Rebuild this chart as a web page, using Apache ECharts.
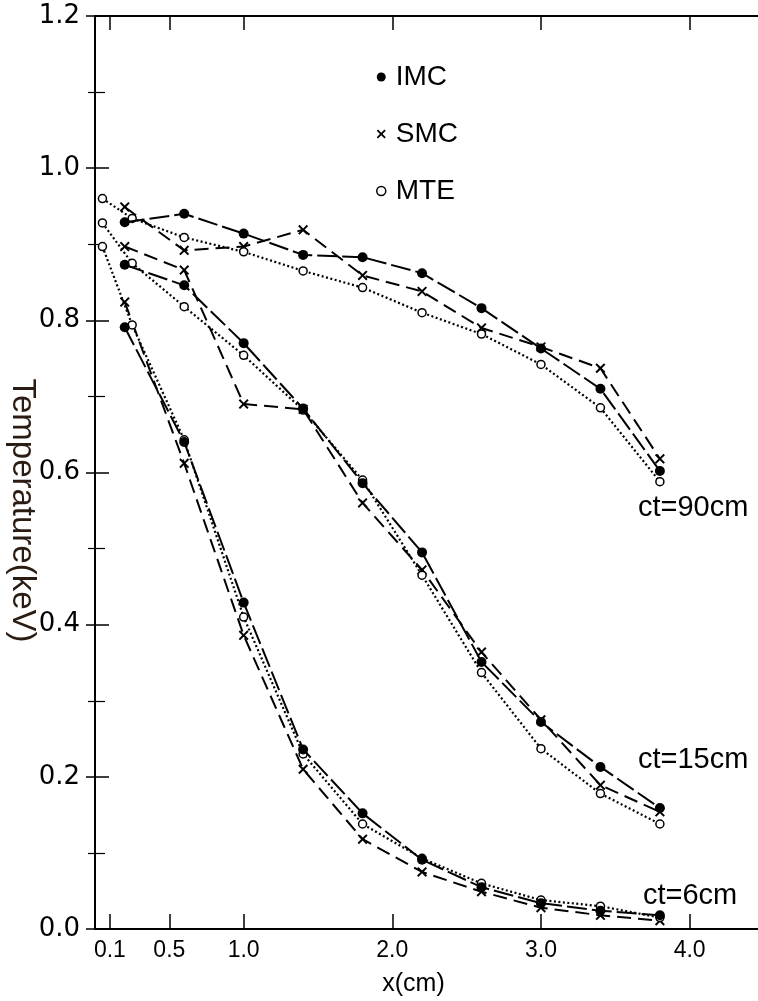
<!DOCTYPE html>
<html>
<head>
<meta charset="utf-8">
<script src="https://cdn.jsdelivr.net/npm/echarts@6/dist/echarts.min.js"></script>
<style>html,body{margin:0;padding:0;background:#fff;}#c{width:758px;height:1001px;}</style>
</head>
<body>
<div id="c"></div>
<script>
// ---- data ----
const xTickValues = [0.1, 0.5, 1.0, 2.0, 3.0, 4.0];
const xTickLabels = ['0.1', '0.5', '1.0', '2.0', '3.0', '4.0'];
const yTickLabels = ['0.0', '0.2', '0.4', '0.6', '0.8', '1.0', '1.2'];

const xSim = [0.2, 0.6, 1.0, 1.4, 1.8, 2.2, 2.6, 3.0, 3.4, 3.8];          // IMC & SMC positions
const xMte = [0.05, 0.25, 0.6, 1.0, 1.4, 1.8, 2.2, 2.6, 3.0, 3.4, 3.8];   // MTE positions

// ct = 90 cm
const imc90 = [0.929, 0.940, 0.914, 0.886, 0.883, 0.862, 0.816, 0.763, 0.710, 0.602];
const smc90 = [0.949, 0.892, 0.897, 0.919, 0.859, 0.838, 0.790, 0.765, 0.737, 0.618];
const mte90 = [0.960, 0.934, 0.909, 0.890, 0.865, 0.843, 0.810, 0.782, 0.742, 0.685, 0.588];
// ct = 15 cm
const imc15 = [0.873, 0.846, 0.770, 0.684, 0.586, 0.495, 0.351, 0.272, 0.213, 0.159];
const smc15 = [0.897, 0.866, 0.690, 0.683, 0.560, 0.472, 0.364, 0.275, 0.189, 0.154];
const mte15 = [0.928, 0.875, 0.818, 0.754, 0.682, 0.590, 0.465, 0.337, 0.237, 0.178, 0.138];
// ct = 6 cm
const imc6 = [0.791, 0.640, 0.429, 0.236, 0.152, 0.091, 0.055, 0.034, 0.024, 0.018];
const smc6 = [0.824, 0.612, 0.386, 0.210, 0.118, 0.075, 0.049, 0.028, 0.018, 0.011];
const mte6 = [0.897, 0.794, 0.643, 0.410, 0.230, 0.138, 0.093, 0.060, 0.038, 0.030, 0.015];

const ctLabels = ['ct=90cm', 'ct=15cm', 'ct=6cm'];
const methodNames = ['IMC', 'SMC', 'MTE'];

// ---- build ----
const pairs = (xs, ys) => xs.map((x, i) => [x, ys[i]]);
const crossPath = 'path://M0,0.14 L0.14,0 L0.5,0.36 L0.86,0 L1,0.14 L0.64,0.5 L1,0.86 L0.86,1 L0.5,0.64 L0.14,1 L0,0.86 L0.36,0.5 Z';

const styleOf = {
  IMC: { symbol: 'circle', symbolSize: 10, itemStyle: { color: '#000' }, dash: [20, 5], width: 2 },
  SMC: { symbol: crossPath, symbolSize: 10, itemStyle: { color: '#000' }, dash: [14, 7], width: 2 },
  MTE: { symbol: 'circle', symbolSize: 8, itemStyle: { color: '#fff', borderColor: '#000', borderWidth: 1.5 }, dash: [2, 2.5], width: 2.2 }
};

function mk(name, xs, ys) {
  const s = styleOf[name];
  return {
    type: 'line', name: name, data: pairs(xs, ys),
    symbol: s.symbol, symbolSize: s.symbolSize, showAllSymbol: true,
    itemStyle: s.itemStyle,
    lineStyle: { color: '#000', width: s.width, type: s.dash },
    emphasis: { disabled: true }, z: name === 'IMC' ? 4 : 3
  };
}

const series = [
  mk('IMC', xSim, imc90), mk('SMC', xSim, smc90), mk('MTE', xMte, mte90),
  mk('IMC', xSim, imc15), mk('SMC', xSim, smc15), mk('MTE', xMte, mte15),
  mk('IMC', xSim, imc6), mk('SMC', xSim, smc6), mk('MTE', xMte, mte6)
];

const axisLine = { show: true, onZero: false, lineStyle: { color: '#000', width: 2 } };

const chart = echarts.init(document.getElementById('c'), null, { renderer: 'canvas' });
chart.setOption({
  animation: false,
  backgroundColor: '#fff',
  grid: { left: 95, top: 16, right: 0, bottom: 72, containLabel: false, outerBoundsMode: 'none' },
  legend: {
    orient: 'vertical', left: 371, top: 58,
    itemWidth: 9, itemHeight: 9, itemGap: 29,
    textStyle: { fontFamily: 'Liberation Sans', fontSize: 28, color: '#000', lineHeight: 28, padding: [0, 0, 0, 5] },
    selectedMode: false,
    data: [
      { name: methodNames[0], icon: 'circle', itemStyle: { color: '#000' } },
      { name: methodNames[1], icon: crossPath, itemStyle: { color: '#000' } },
      { name: methodNames[2], icon: 'circle', itemStyle: { color: '#fff', borderColor: '#000', borderWidth: 1.5 } }
    ]
  },
  xAxis: [{
    type: 'value', min: 0, max: 4.46, position: 'bottom',
    axisLine: axisLine, splitLine: { show: false },
    axisTick: { show: true, inside: true, length: 15, customValues: xTickValues, lineStyle: { color: '#000', width: 1.5 } },
    axisLabel: {
      customValues: xTickValues, margin: 10, color: '#000',
      fontFamily: 'Liberation Sans', fontSize: 23,
      formatter: v => xTickLabels[xTickValues.findIndex(t => Math.abs(t - v) < 1e-6)]
    },
    name: 'x(cm)', nameLocation: 'middle', nameGap: 43, nameMoveOverlap: false,
    nameTextStyle: { fontFamily: 'Liberation Sans', fontSize: 25, color: '#000', padding: [0, 26, 0, 0] }
  }, {
    type: 'value', min: 0, max: 4.46, position: 'top',
    axisLine: axisLine, splitLine: { show: false },
    axisTick: { show: true, inside: true, length: 14, customValues: xTickValues, lineStyle: { color: '#000', width: 1.5 } },
    axisLabel: { show: false }
  }],
  yAxis: [{
    type: 'value', min: 0, max: 1.2, interval: 0.2, position: 'left',
    axisLine: axisLine, splitLine: { show: false },
    axisTick: { show: true, inside: true, length: 14, lineStyle: { color: '#000', width: 1.5 } },
    minorTick: { show: true, splitNumber: 2, length: 10, lineStyle: { color: '#000', width: 1.2 } },
    axisLabel: {
      margin: 15, color: '#000', fontFamily: 'DejaVu Sans', fontSize: 26,
      formatter: v => yTickLabels[Math.round(v / 0.2)]
    },
    name: 'Temperature(keV)', nameLocation: 'middle', nameRotate: -90, nameGap: 56, nameMoveOverlap: false,
    nameTextStyle: { fontFamily: 'Liberation Sans', fontSize: 33, color: '#2a1c12', padding: [0, 0, 0, 76] }
  }, {
    type: 'value', min: 0, max: 1.2, interval: 0.2, position: 'right',
    axisLine: { show: false }, splitLine: { show: false },
    axisTick: { show: true, inside: true, length: 9, lineStyle: { color: '#000', width: 1.5 } },
    minorTick: { show: true, splitNumber: 2, length: 7, lineStyle: { color: '#000', width: 1.2 } },
    axisLabel: { show: false }
  }],
  graphic: [
    { type: 'text', left: 638, top: 493, style: { text: ctLabels[0], fontFamily: 'Liberation Sans', fontSize: 29, fill: '#000' } },
    { type: 'text', left: 638, top: 745, style: { text: ctLabels[1], fontFamily: 'Liberation Sans', fontSize: 29, fill: '#000' } },
    { type: 'text', left: 643, top: 881, style: { text: ctLabels[2], fontFamily: 'Liberation Sans', fontSize: 29, fill: '#000' } }
  ],
  series: series
});
</script>
</body>
</html>
